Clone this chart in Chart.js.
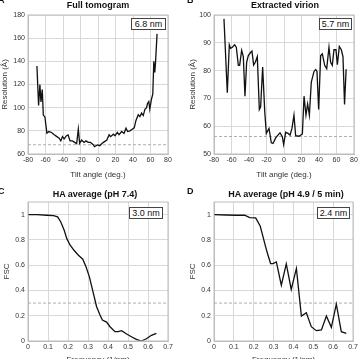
<!DOCTYPE html>
<html>
<head>
<meta charset="utf-8">
<script src="https://cdn.jsdelivr.net/npm/chart.js@4/dist/chart.umd.min.js"></script>
<style>
  html, body { margin: 0; padding: 0; width: 361px; height: 359px; overflow: hidden; background: #fff; }
  body { position: relative; font-family: "Liberation Sans", Arial, sans-serif; color: #111; }
  canvas { position: absolute; }
  .letter { position: absolute; font-weight: bold; font-size: 9px; line-height: 9px; }
  .title { position: absolute; font-weight: bold; font-size: 9px; line-height: 10px; white-space: nowrap; transform: translateX(-50%); }
  .box { position: absolute; box-sizing: border-box; height: 12px; border: 1px solid #444; background: #fff;
         font-size: 9px; line-height: 10px; text-align: center; white-space: nowrap; }
</style>
</head>
<body>
<canvas id="chartA" width="180" height="180" style="left:0;top:0"></canvas>
<canvas id="chartB" width="181" height="180" style="left:180px;top:0"></canvas>
<canvas id="chartC" width="180" height="185" style="left:0;top:180px"></canvas>
<canvas id="chartD" width="181" height="185" style="left:180px;top:180px"></canvas>

<div class="letter" style="left:-2px;top:-4px">A</div>
<div class="letter" style="left:187px;top:-4px">B</div>
<div class="letter" style="left:-2px;top:187px">C</div>
<div class="letter" style="left:187px;top:187px">D</div>

<div class="title" style="left:98px;top:0">Full tomogram</div>
<div class="title" style="left:285px;top:0">Extracted virion</div>
<div class="title" style="left:95px;top:189px">HA average (pH 7.4)</div>
<div class="title" style="left:286px;top:189px">HA average (pH 4.9 / 5 min)</div>

<div class="box" style="left:131px;top:18px;width:35px">6.8 nm</div>
<div class="box" style="left:319px;top:18px;width:33px">5.7 nm</div>
<div class="box" style="left:129px;top:207px;width:34px">3.0 nm</div>
<div class="box" style="left:317px;top:207px;width:33px">2.4 nm</div>

<script>
// A: full tomogram, resolution per tilt
const tiltA = [-69.8, -67.9, -66.4, -65.2, -63.7, -62.5, -60.7, -58.4, -56.2, -53.1, -50, -47, -44.4, -42.5,
  -40.6, -38.7, -36, -34.2, -31.9, -29.3, -26.6, -24.4, -22.5, -21, -18.7, -16, -13.8, -11.1, -8.5, -5.8,
  -3.9, -0.9, 2, 4.8, 6.2, 10.1, 12.7, 14.4, 17.6, 19.5, 22.1, 24, 27.1, 29.7, 32, 33.8, 36.5, 39.1, 41.4,
  43.3, 46, 47.9, 49.8, 51.7, 53.6, 55.5, 56.6, 58.1, 59.2, 61.1, 62.6, 63.8, 64.9, 65.7, 67.5];
const resA = [135.9, 102, 120, 105, 115.7, 93.6, 92, 78, 79.4, 78.6, 76.6, 75, 73.6, 71.3,
  75, 73, 75.8, 76.4, 71.3, 71.3, 70, 69, 81.6, 69.3, 72, 70, 71.3, 70, 70, 68.3,
  66.3, 67.8, 67.2, 69.3, 70, 72, 76.6, 75, 77.1, 75.8, 78.6, 76.6, 79.4, 77.8, 82.3, 79.4, 80, 81.4, 82.6,
  88.8, 93.9, 92.3, 95.3, 93.2, 98.6, 100, 103.6, 105.3, 98.6, 107.3, 111.6, 140, 130.3, 138.7, 163.7];

// B: extracted virion
const tiltB = [-68.6, -64.8, -62.5, -61, -59, -56.4, -54.5, -52.2, -50.7, -48.4, -46.5, -44.6, -42.7, -40.8,
  -38, -36.6, -34.7, -32.8, -30.5, -28.2, -26.7, -24.4, -22, -20.2, -17.1, -14.5, -12.6, -9.5, -6.9, -4.6,
  -1.9, -0.4, 1.9, 4.6, 6.9, 9.1, 11.4, 13.3, 17.1, 21, 22.9, 25.1, 27, 29, 31.2, 34.3, 36.2, 37.7, 39.6,
  41.9, 43.8, 46.5, 48.8, 51.4, 53.3, 55.2, 57.1, 59.4, 61, 63.2, 65.5, 67.4, 69.2, 71];
const resB = [98.6, 72, 89.3, 88, 88.4, 89.3, 88.4, 81.9, 81.9, 87.3, 85, 70.8, 83, 85.4,
  86.6, 87, 82, 83, 85, 66, 67, 81.3, 65.2, 57.4, 59.2, 54, 53.8, 55.8, 56.8, 57.6,
  56.2, 53.4, 57.8, 57.4, 56.8, 59.2, 64, 56.6, 56.4, 57.2, 70.8, 64, 68, 64, 75.9, 79.7, 80.4, 79.7, 66,
  85.4, 86, 81.9, 80.7, 88.4, 83, 81.9, 87.5, 87.5, 82.1, 88.7, 87.5, 85, 67.8, 80.5];

// C: FSC, pH 7.4
const freqC = [0, 0.045, 0.095, 0.128, 0.148, 0.164, 0.181, 0.194, 0.211, 0.23, 0.252, 0.274, 0.29, 0.307,
  0.323, 0.343, 0.36, 0.372, 0.393, 0.41, 0.435, 0.451, 0.468, 0.493, 0.517, 0.542, 0.567, 0.592, 0.617, 0.642];
const fscC = [1, 1, 0.995, 0.992, 0.982, 0.942, 0.876, 0.81, 0.758, 0.718, 0.679, 0.647, 0.587, 0.508,
  0.403, 0.271, 0.205, 0.166, 0.15, 0.113, 0.074, 0.074, 0.082, 0.055, 0.034, 0.013, 0, 0.018, 0.045, 0.06];

// D: FSC, pH 4.9 / 5 min
const freqD = [0, 0.062, 0.112, 0.154, 0.18, 0.21, 0.233, 0.247, 0.26, 0.272, 0.285, 0.297, 0.314, 0.339,
  0.364, 0.389, 0.415, 0.44, 0.465, 0.49, 0.515, 0.541, 0.566, 0.591, 0.616, 0.641, 0.666];
const fscD = [1, 0.997, 0.995, 0.995, 0.976, 0.974, 0.908, 0.824, 0.745, 0.679, 0.613, 0.613, 0.626, 0.442,
  0.61, 0.408, 0.574, 0.197, 0.224, 0.113, 0.082, 0.087, 0.197, 0.108, 0.292, 0.074, 0.06];

// dashed threshold lines
const cutoffA = 68;
const cutoffB = 56.3;
const cutoffFsc = 0.3;

// tick labels
const tiltTicks = [-80, -60, -40, -20, 0, 20, 40, 60, 80];
const resTicksA = [60, 80, 100, 120, 140, 160, 180];
const resTicksB = [50, 60, 70, 80, 90, 100];
const freqTicks = [0, 0.1, 0.2, 0.3, 0.4, 0.5, 0.6, 0.7];
const fscTicks = [0, 0.2, 0.4, 0.6, 0.8, 1];

const gridColor = '#d9d9d9';
const tickFont = { family: 'Liberation Sans', size: 7 };
const titleFont = { family: 'Liberation Sans', size: 8 };

// frame round the plot area
const framePlugin = {
  id: 'frame',
  afterDraw(chart) {
    const { ctx, chartArea: a } = chart;
    ctx.save();
    ctx.strokeStyle = '#bdbdbd';
    ctx.lineWidth = 1;
    ctx.strokeRect(a.left, a.top, a.right - a.left, a.bottom - a.top);
    ctx.restore();
  }
};

function makePanel(id, xs, ys, cutoff, o) {
  const points = xs.map((x, i) => ({ x: x, y: ys[i] }));
  new Chart(document.getElementById(id), {
    type: 'scatter',
    data: {
      datasets: [
        { data: points, showLine: true, borderColor: '#111', borderWidth: 1.3, pointRadius: 0 },
        { data: [{ x: o.xMin, y: cutoff }, { x: o.xMax, y: cutoff }], showLine: true,
          borderColor: '#999', borderWidth: 0.8, borderDash: [3, 2], pointRadius: 0 }
      ]
    },
    options: {
      responsive: false,
      animation: false,
      events: [],
      layout: { padding: { top: o.top, right: o.right, left: 0, bottom: 0 } },
      plugins: { legend: { display: false }, tooltip: { enabled: false } },
      scales: {
        x: {
          type: 'linear', min: o.xMin, max: o.xMax,
          afterBuildTicks: s => { s.ticks = o.xTicks.map(v => ({ value: v })); },
          afterFit: s => { s.height = o.xh; },
          grid: { color: gridColor, drawTicks: false },
          border: { color: '#bdbdbd' },
          ticks: { font: tickFont, color: '#333', padding: 2, maxRotation: 0, autoSkip: false,
                   callback: v => String(v) },
          title: { display: true, text: o.xTitle, font: titleFont, color: '#333', padding: { top: 3.5, bottom: 0 } }
        },
        y: {
          type: 'linear', min: o.yMin, max: o.yMax,
          afterBuildTicks: s => { s.ticks = o.yTicks.map(v => ({ value: v })); },
          afterFit: s => { s.width = o.yw; },
          grid: { color: gridColor, drawTicks: false },
          border: { color: '#bdbdbd' },
          ticks: { font: tickFont, color: '#333', padding: 3, autoSkip: false,
                   callback: v => String(v) },
          title: { display: true, text: o.yTitle, font: titleFont, color: '#333', padding: { top: o.yTitlePad, bottom: 0 } }
        }
      }
    },
    plugins: [framePlugin]
  });
}

makePanel('chartA', tiltA, resA, cutoffA, {
  xMin: -80, xMax: 80, yMin: 60, yMax: 180, xTicks: tiltTicks, yTicks: resTicksA,
  top: 15, right: 12, xh: 26, yw: 28, yTitlePad: 0,
  xTitle: 'Tilt angle (deg.)', yTitle: 'Resolution (Å)'
});
makePanel('chartB', tiltB, resB, cutoffB, {
  xMin: -80, xMax: 80, yMin: 50, yMax: 100, xTicks: tiltTicks, yTicks: resTicksB,
  top: 15, right: 7, xh: 26, yw: 34, yTitlePad: 8,
  xTitle: 'Tilt angle (deg.)', yTitle: 'Resolution (Å)'
});
makePanel('chartC', freqC, fscC, cutoffFsc, {
  xMin: 0, xMax: 0.7, yMin: 0, yMax: 1.1, xTicks: freqTicks, yTicks: fscTicks,
  top: 22, right: 12, xh: 24, yw: 28, yTitlePad: 2,
  xTitle: 'Frequency (1/nm)', yTitle: 'FSC'
});
makePanel('chartD', freqD, fscD, cutoffFsc, {
  xMin: 0, xMax: 0.7, yMin: 0, yMax: 1.1, xTicks: freqTicks, yTicks: fscTicks,
  top: 22, right: 8, xh: 24, yw: 34, yTitlePad: 8,
  xTitle: 'Frequency (1/nm)', yTitle: 'FSC'
});
</script>
</body>
</html>
